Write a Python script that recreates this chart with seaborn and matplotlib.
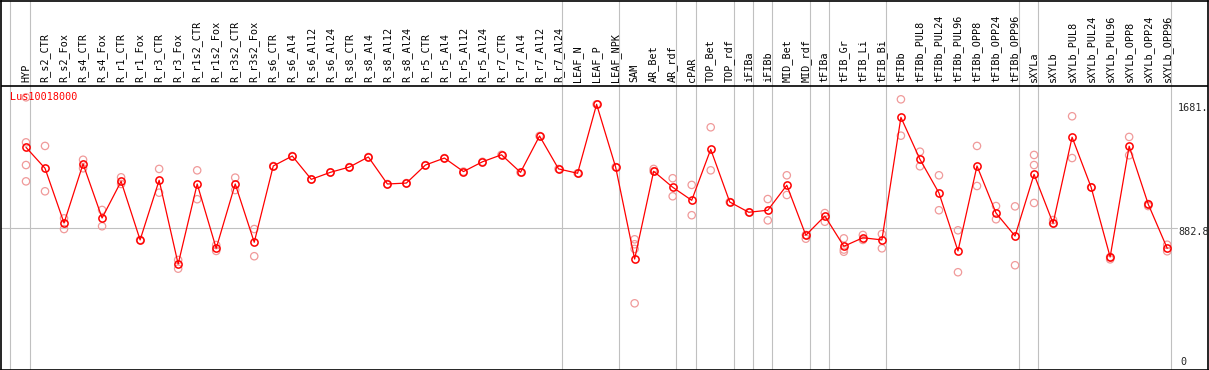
import numpy as np
import pandas as pd
import seaborn as sns
import matplotlib
matplotlib.use('Agg')
import matplotlib.pyplot as plt

# sample names (61 samples)
samples = ['HYP', 'R_s2_CTR', 'R_s2_Fox', 'R_s4_CTR', 'R_s4_Fox', 'R_r1_CTR', 'R_r1_Fox',
           'R_r3_CTR', 'R_r3_Fox', 'R_r1s2_CTR', 'R_r1s2_Fox', 'R_r3s2_CTR', 'R_r3s2_Fox',
           'R_s6_CTR', 'R_s6_Al4', 'R_s6_Al12', 'R_s6_Al24', 'R_s8_CTR', 'R_s8_Al4',
           'R_s8_Al12', 'R_s8_Al24', 'R_r5_CTR', 'R_r5_Al4', 'R_r5_Al12', 'R_r5_Al24',
           'R_r7_CTR', 'R_r7_Al4', 'R_r7_Al12', 'R_r7_Al24', 'LEAF_N', 'LEAF_P', 'LEAF_NPK',
           'SAM', 'AR_Bet', 'AR_rdf', 'cPAR', 'TOP_Bet', 'TOP_rdf', 'iFIBa', 'iFIBb',
           'MID_Bet', 'MID_rdf', 'tFIBa', 'tFIB_Gr', 'tFIB_Li', 'tFIB_Bi', 'tFIBb',
           'tFIBb_PUL8', 'tFIBb_PUL24', 'tFIBb_PUL96', 'tFIBb_OPP8', 'tFIBb_OPP24',
           'tFIBb_OPP96', 'sXYLa', 'sXYLb', 'sXYLb_PUL8', 'sXYLb_PUL24', 'sXYLb_PUL96',
           'sXYLb_OPP8', 'sXYLb_OPP24', 'sXYLb_OPP96']

# mean expression (red line)
means = [1404, 1269, 917, 1297, 949, 1185, 808, 1192, 653, 1168, 754, 1168, 793,
         1284, 1348, 1198, 1243, 1277, 1342, 1168, 1174, 1290, 1335, 1248, 1311,
         1356, 1243, 1477, 1265, 1237, 1681, 1277,
         685, 1250, 1147, 1063, 1391, 1052, 986, 999, 1160, 838, 962, 767, 822, 808,
         1597, 1327, 1110, 737, 1284, 981, 833, 1230, 915, 1469, 1147, 698, 1411, 1039, 754]

# replicate values (pink circles)
reps = [[1726, 1436, 1290, 1185], [1413, 1121], [947, 878], [1324, 1269], [1001, 896],
        [1211, 1168], [808], [1265, 1112], [679, 623], [1256, 1070], [775, 737],
        [1209, 1129], [878, 703], [1284], [1348], [1198], [1243], [1277], [1342],
        [1168], [1174], [1290], [1335], [1248], [1311], [1356], [1243], [1477],
        [1265], [1237], [1681], [1277],
        [812, 780, 750, 400], [1265, 1250], [1205, 1089], [1162, 967], [1533, 1256],
        [1052], [986], [1071, 934], [1224, 1097], [840, 816], [981, 925],
        [818, 746, 732], [840, 808], [846, 754], [1713, 1479],
        [1376, 1282], [1224, 999], [870, 600], [1413, 1155], [1026, 941],
        [1024, 645], [1355, 1290, 1046], [936, 915], [1604, 1335], [1147],
        [698, 683], [1471, 1353], [1039, 1026], [777, 735]]

# last sample of each group -> grey separators
group_ends = [0, 28, 31, 34, 35, 37, 38, 39, 41, 42, 45, 52, 53, 60]
mid_value = 882.8
max_value = 1681

df = pd.DataFrame({'x': np.arange(len(samples)), 'value': means})
rep_df = pd.DataFrame([(i, v) for i, r in enumerate(reps) for v in r], columns=['x', 'value'])

# pixel layout (figure is 1209x370)
W, H = 1209, 370
x0, dx = 26, 19.02            # pixel x of first sample, step
y_mid, ky = 228.3, 6.437      # pixel y of mid_value, value per pixel
px2x = lambda p: (p - x0) / dx
py2v = lambda p: mid_value + ky * (y_mid - p)

L, R, T, B = 1.0, 1207.5, 0.5, 369.5

sns.set_style('white')
plt.rcParams['font.family'] = ['DejaVu Sans Mono']
fig = plt.figure(figsize=(W / 100, H / 100), dpi=100)
ax = fig.add_axes([L / W, 1 - B / H, (R - L) / W, (B - T) / H])
ax.set_xlim(px2x(L), px2x(R))
ax.set_ylim(py2v(B), py2v(T))

grey = '#c0c0c0'
for g in [-0.84] + [e + 0.2 for e in group_ends]:
    ax.axvline(g, color=grey, lw=0.8, zorder=0)
ax.axhline(mid_value, xmax=(1177 - L) / (R - L), color=grey, lw=0.8, zorder=0)
ax.axhline(py2v(85.5), color='black', lw=1.2, zorder=1)

sns.scatterplot(data=rep_df, x='x', y='value', ax=ax, marker='o', s=28,
                facecolors='none', edgecolor='#f09a9a', linewidth=0.9, zorder=2)
sns.lineplot(data=df, x='x', y='value', ax=ax, color='red', lw=0.9,
             marker='o', markersize=5.2, markerfacecolor='none',
             markeredgecolor='red', markeredgewidth=1.1, zorder=3)

for i, name in enumerate(samples):
    ax.text(i, py2v(82.5), name, rotation=90, ha='center', va='bottom',
            fontsize=7.3, color='black')

ax.text(px2x(10), py2v(96.7), 'Lus10018000', color='red', fontsize=7.3,
        ha='left', va='center')
ax.text(px2x(1178), py2v(107.7), '1681.', fontsize=7.3, ha='left', va='center')
ax.text(px2x(1178), py2v(231.7), '882.8', fontsize=7.3, ha='left', va='center')
ax.text(px2x(1180), py2v(361.7), '0', fontsize=7.3, ha='left', va='center')

ax.set_xticks([])
ax.set_yticks([])
ax.set_xlabel('')
ax.set_ylabel('')
for s in ax.spines.values():
    s.set_color('black')
    s.set_linewidth(1.2)

fig.savefig('out.png', dpi=100)
